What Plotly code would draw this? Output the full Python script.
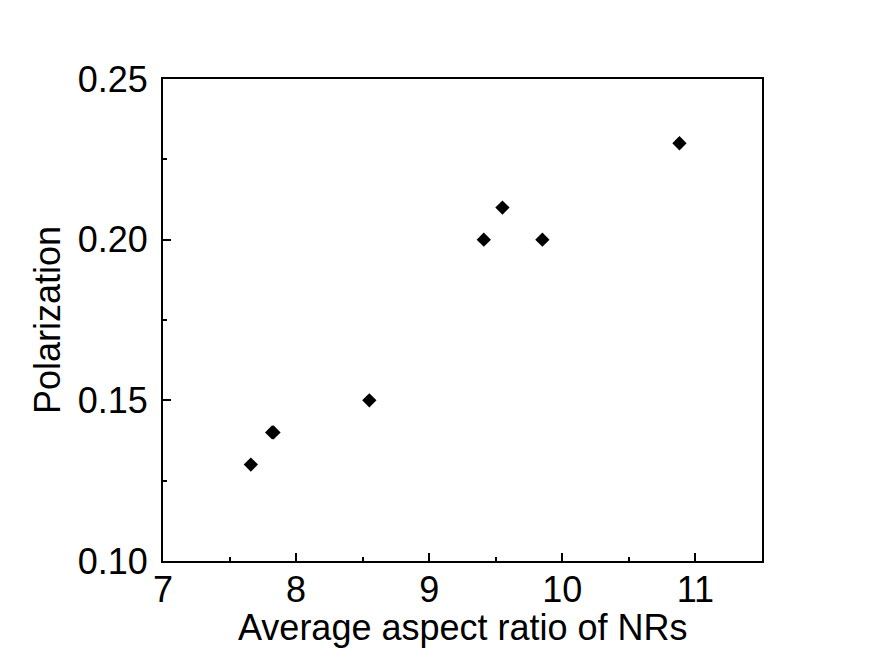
import plotly.graph_objects as go

# Average aspect ratio of nanorods vs. measured polarization
aspect_ratio = [7.66, 7.82, 7.83, 8.55, 9.41, 9.55, 9.85, 10.88]
polarization = [0.13, 0.14, 0.14, 0.15, 0.20, 0.21, 0.20, 0.23]

x_ticks = [7, 8, 9, 10, 11]
y_ticks = [0.10, 0.15, 0.20, 0.25]
y_tick_text = ["0.10", "0.15", "0.20", "0.25"]

font_family = "Liberation Sans, Arial, sans-serif"

fig = go.Figure(
    go.Scatter(
        x=aspect_ratio,
        y=polarization,
        mode="markers",
        marker=dict(symbol="diamond", size=11, color="black"),
        showlegend=False,
    )
)

axis_common = dict(
    showline=True,
    linecolor="black",
    linewidth=2,
    mirror=True,
    showgrid=False,
    zeroline=False,
    ticks="inside",
    tickcolor="black",
    tickwidth=2,
    ticklen=8,
    tickfont=dict(family=font_family, size=36, color="black"),
)

fig.update_xaxes(
    range=[7, 11.5],
    tickvals=x_ticks,
    ticktext=[str(v) for v in x_ticks],
    ticklabelstandoff=-4,
    minor=dict(ticks="inside", dtick=0.5, tick0=7, ticklen=4, tickwidth=2, tickcolor="black"),
    **axis_common,
)
fig.update_yaxes(
    range=[0.10, 0.25],
    tickvals=y_ticks,
    ticktext=y_tick_text,
    ticklabelstandoff=6,
    minor=dict(ticks="inside", dtick=0.025, tick0=0.1, ticklen=4, tickwidth=2, tickcolor="black"),
    title=dict(text="Polarization",
               font=dict(family=font_family, size=36, color="black"), standoff=6),
    **axis_common,
)

# x-axis title placed just under the tick labels
fig.add_annotation(
    text="Average aspect ratio of NRs",
    xref="paper", yref="paper",
    x=0.5, y=-0.092,
    xanchor="center", yanchor="top",
    showarrow=False,
    font=dict(family=font_family, size=36, color="black"),
)

fig.update_layout(
    width=870,
    height=665,
    margin=dict(l=163, r=108, t=79, b=104),
    paper_bgcolor="white",
    plot_bgcolor="white",
)

fig.write_html("out.html")
